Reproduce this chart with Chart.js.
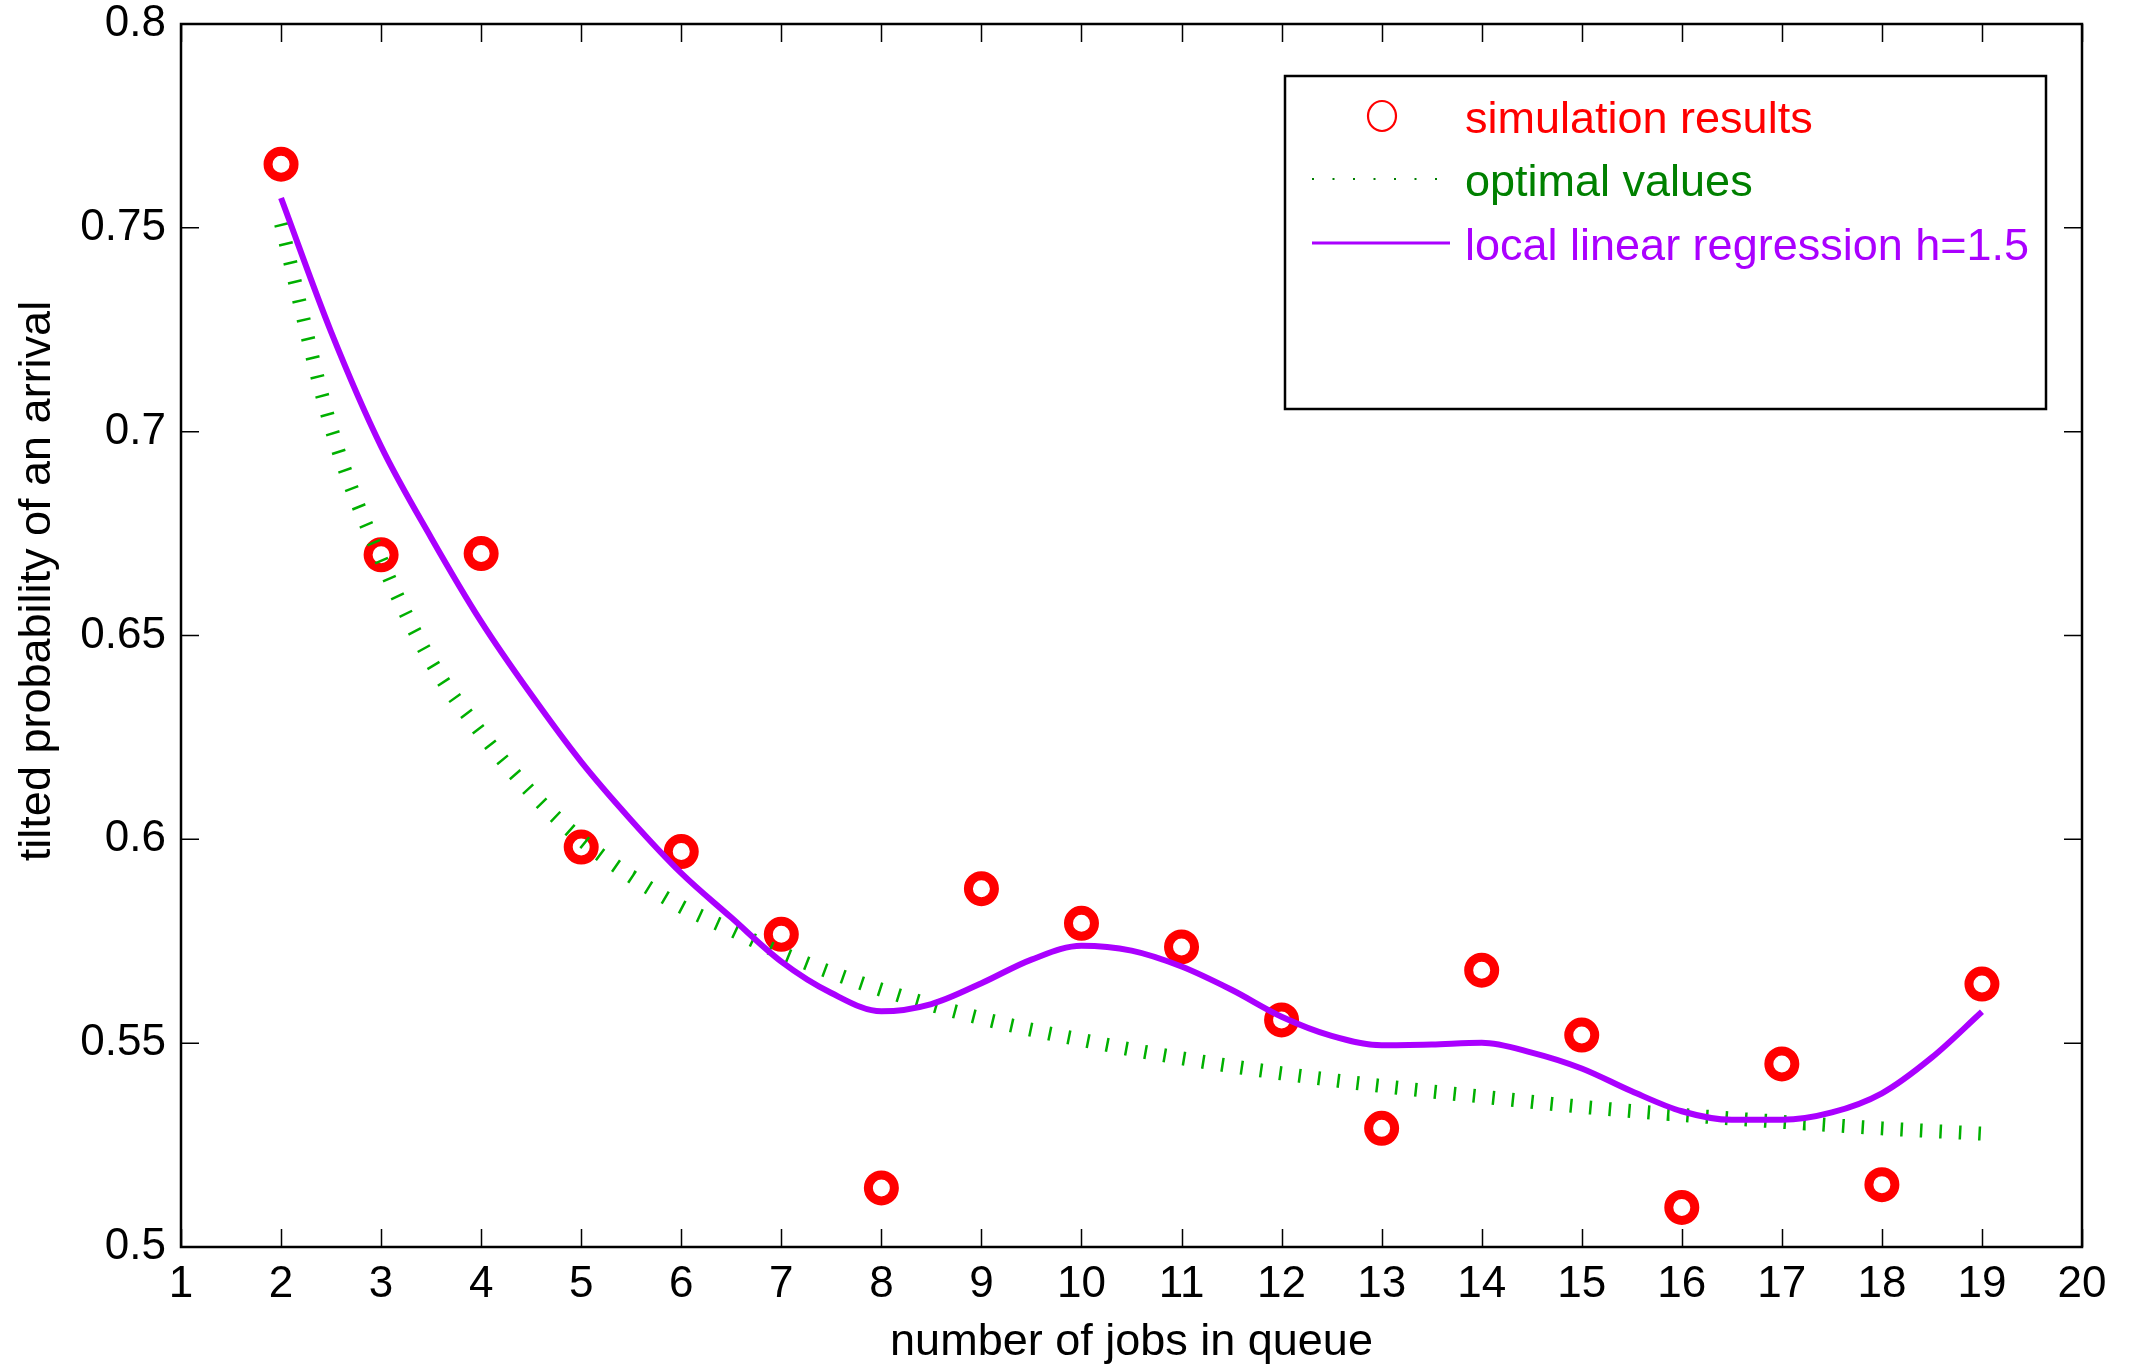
<!DOCTYPE html>
<html lang="en">
<head>
<meta charset="UTF-8">
<title>Tilted probability of an arrival</title>
<style>
    html, body { margin: 0; padding: 0; background: #fff; overflow: hidden; }
    #chart-container { width: 2134px; height: 1367px; }
</style>
</head>
<body>
<div id="chart-container"><canvas id="myChart"></canvas></div>
<script src="https://cdn.jsdelivr.net/npm/chart.js@4.4.1/dist/chart.umd.min.js"></script>
<script>
// values
const jobs = [2, 3, 4, 5, 6, 7, 8, 9, 10, 11, 12, 13, 14, 15, 16, 17, 18, 19];
const simulationResults = [0.7656, 0.6698, 0.6701, 0.5981, 0.5970, 0.5767, 0.5145, 0.5879, 0.5794,
                           0.5736, 0.5557, 0.5291, 0.5679, 0.5520, 0.5097, 0.5449, 0.5153, 0.5645];

const optimalX = [2, 2.5, 3, 3.5, 4, 4.5, 5, 5.5, 6, 6.5, 7, 8, 9, 10, 11, 12, 13, 14, 15, 16, 17, 18, 19];
const optimalValues = [0.751, 0.701, 0.6686, 0.6436, 0.6261, 0.6115, 0.5999, 0.5909, 0.5835, 0.5778, 0.5721,
                       0.5631, 0.5561, 0.5508, 0.5463, 0.5426, 0.5395, 0.5369, 0.5344, 0.5324, 0.5307, 0.5291, 0.5278];

const regressionX = [2, 2.5, 3, 3.5, 4, 4.5, 5, 5.5, 6, 6.5, 7, 7.5, 8, 8.5, 9, 9.5, 10, 10.5, 11, 11.5,
                     12, 12.5, 13, 13.5, 14, 14.5, 15, 15.5, 16, 16.5, 17, 17.5, 18, 18.5, 19];
const regressionValues = [0.7573, 0.7245, 0.6964, 0.674, 0.6534, 0.6355, 0.619, 0.6047, 0.5917, 0.5808,
                          0.570, 0.5623, 0.5578, 0.5596, 0.5647, 0.5705, 0.5739, 0.5727, 0.5688, 0.5631,
                          0.5565, 0.5518, 0.5495, 0.5497, 0.5501, 0.5477, 0.5438, 0.5382, 0.5333, 0.5312,
                          0.5312, 0.5330, 0.5377, 0.5465, 0.5577];

const xTicks = [1, 2, 3, 4, 5, 6, 7, 8, 9, 10, 11, 12, 13, 14, 15, 16, 17, 18, 19, 20];
const yTicks = [0.5, 0.55, 0.6, 0.65, 0.7, 0.75, 0.8];
const yTickLabels = ['0.5', '0.55', '0.6', '0.65', '0.7', '0.75', '0.8'];
const legendLabels = ['simulation results', 'optimal values', 'local linear regression h=1.5'];
const xTitle = 'number of jobs in queue';
const yTitle = 'tilted probability of an arrival';

const FONT = "'Liberation Sans', Arial, Helvetica, sans-serif";
const RED = '#ff0000', GREEN = '#00b000', GREEN_TEXT = '#008000', PURPLE = '#aa00ff';

const toXY = (xs, ys) => xs.map((x, i) => ({ x: x, y: ys[i] }));

// box, inward ticks on all four sides, axis titles, legend
const matlabFrame = {
    id: 'matlabFrame',
    afterDraw(chart) {
        const ctx = chart.ctx;
        const a = chart.chartArea;
        const xs = chart.scales.x, ys = chart.scales.y;
        ctx.save();
        ctx.strokeStyle = '#000';
        ctx.lineWidth = 1.5;
        ctx.beginPath();
        xTicks.forEach(v => {
            const px = Math.round(xs.getPixelForValue(v)) + 0.5;
            ctx.moveTo(px, a.bottom); ctx.lineTo(px, a.bottom - 18);
            ctx.moveTo(px, a.top); ctx.lineTo(px, a.top + 18);
        });
        yTicks.forEach(v => {
            const py = ys.getPixelForValue(v);
            ctx.moveTo(a.left, py); ctx.lineTo(a.left + 18, py);
            ctx.moveTo(a.right, py); ctx.lineTo(a.right - 18, py);
        });
        ctx.stroke();
        ctx.lineWidth = 2.5;
        ctx.strokeRect(a.left, a.top, a.right - a.left, a.bottom - a.top);

        // axis titles
        ctx.fillStyle = '#000';
        ctx.font = '45px ' + FONT;
        ctx.textAlign = 'center';
        ctx.textBaseline = 'alphabetic';
        ctx.fillText(xTitle, (a.left + a.right) / 2, 1355);
        ctx.save();
        ctx.translate(50, 581);
        ctx.rotate(-Math.PI / 2);
        ctx.fillText(yTitle, 0, 0);
        ctx.restore();

        // legend
        const lx = 1285, ly = 76, lw = 761, lh = 333;
        ctx.fillStyle = '#fff';
        ctx.fillRect(lx, ly, lw, lh);
        ctx.strokeStyle = '#000';
        ctx.lineWidth = 2.5;
        ctx.strokeRect(lx, ly, lw, lh);

        ctx.strokeStyle = RED;
        ctx.lineWidth = 2.2;
        ctx.beginPath();
        ctx.ellipse(1382, 116, 14, 15, 0, 0, Math.PI * 2);
        ctx.stroke();

        ctx.fillStyle = GREEN_TEXT;
        for (let dx = 1312; dx <= 1440; dx += 20.5) ctx.fillRect(dx, 178, 2, 2);

        ctx.strokeStyle = PURPLE;
        ctx.lineWidth = 3;
        ctx.beginPath();
        ctx.moveTo(1312, 243); ctx.lineTo(1450, 243);
        ctx.stroke();

        ctx.textAlign = 'left';
        ctx.font = '45px ' + FONT;
        const colors = [RED, GREEN_TEXT, PURPLE];
        const baselines = [133, 196, 260];
        legendLabels.forEach((t, i) => {
            ctx.fillStyle = colors[i];
            ctx.fillText(t, 1465, baselines[i]);
        });
        ctx.restore();
    }
};

const ctx = document.getElementById('myChart').getContext('2d');
const myChart = new Chart(ctx, {
    type: 'scatter',
    data: {
        datasets: [
            {
                label: legendLabels[2],
                type: 'line',
                data: toXY(regressionX, regressionValues),
                borderColor: PURPLE,
                borderWidth: 6,
                pointRadius: 0,
                cubicInterpolationMode: 'monotone',
                fill: false,
                order: 0
            },
            {
                label: legendLabels[1],
                type: 'line',
                data: toXY(optimalX, optimalValues),
                borderColor: GREEN,
                borderWidth: 14,
                borderDash: [2.5, 17],
                borderCapStyle: 'butt',
                pointRadius: 0,
                cubicInterpolationMode: 'monotone',
                fill: false,
                order: 1
            },
            {
                label: legendLabels[0],
                data: toXY(jobs, simulationResults),
                showLine: false,
                pointStyle: 'circle',
                pointRadius: 13,
                pointBorderWidth: 9,
                borderColor: RED,
                backgroundColor: 'rgba(0,0,0,0)',
                order: 2
            }
        ]
    },
    options: {
        responsive: true,
        maintainAspectRatio: false,
        animation: false,
        layout: { padding: { left: 0, right: 52, top: 24, bottom: 0 } },
        plugins: {
            legend: { display: false },
            tooltip: { enabled: false },
            title: { display: false }
        },
        scales: {
            x: {
                type: 'linear',
                min: 1,
                max: 20,
                grid: { display: false, drawTicks: false },
                border: { display: false },
                afterBuildTicks: s => { s.ticks = xTicks.map(v => ({ value: v })); },
                afterFit: s => { s.height = 120; s.paddingLeft = 0; s.paddingRight = 0; },
                ticks: {
                    color: '#000',
                    padding: 16,
                    maxRotation: 0,
                    autoSkip: false,
                    font: { family: FONT, size: 44, lineHeight: 1 },
                    callback: v => String(v)
                }
            },
            y: {
                min: 0.5,
                max: 0.8,
                grid: { display: false, drawTicks: false },
                border: { display: false },
                afterBuildTicks: s => { s.ticks = yTicks.map(v => ({ value: v })); },
                afterFit: s => { s.width = 181; s.paddingTop = 0; s.paddingBottom = 0; },
                ticks: {
                    color: '#000',
                    padding: 15,
                    autoSkip: false,
                    font: { family: FONT, size: 44, lineHeight: 1 },
                    callback: (v, i) => yTickLabels[i]
                }
            }
        }
    },
    plugins: [matlabFrame]
});
</script>
</body>
</html>
